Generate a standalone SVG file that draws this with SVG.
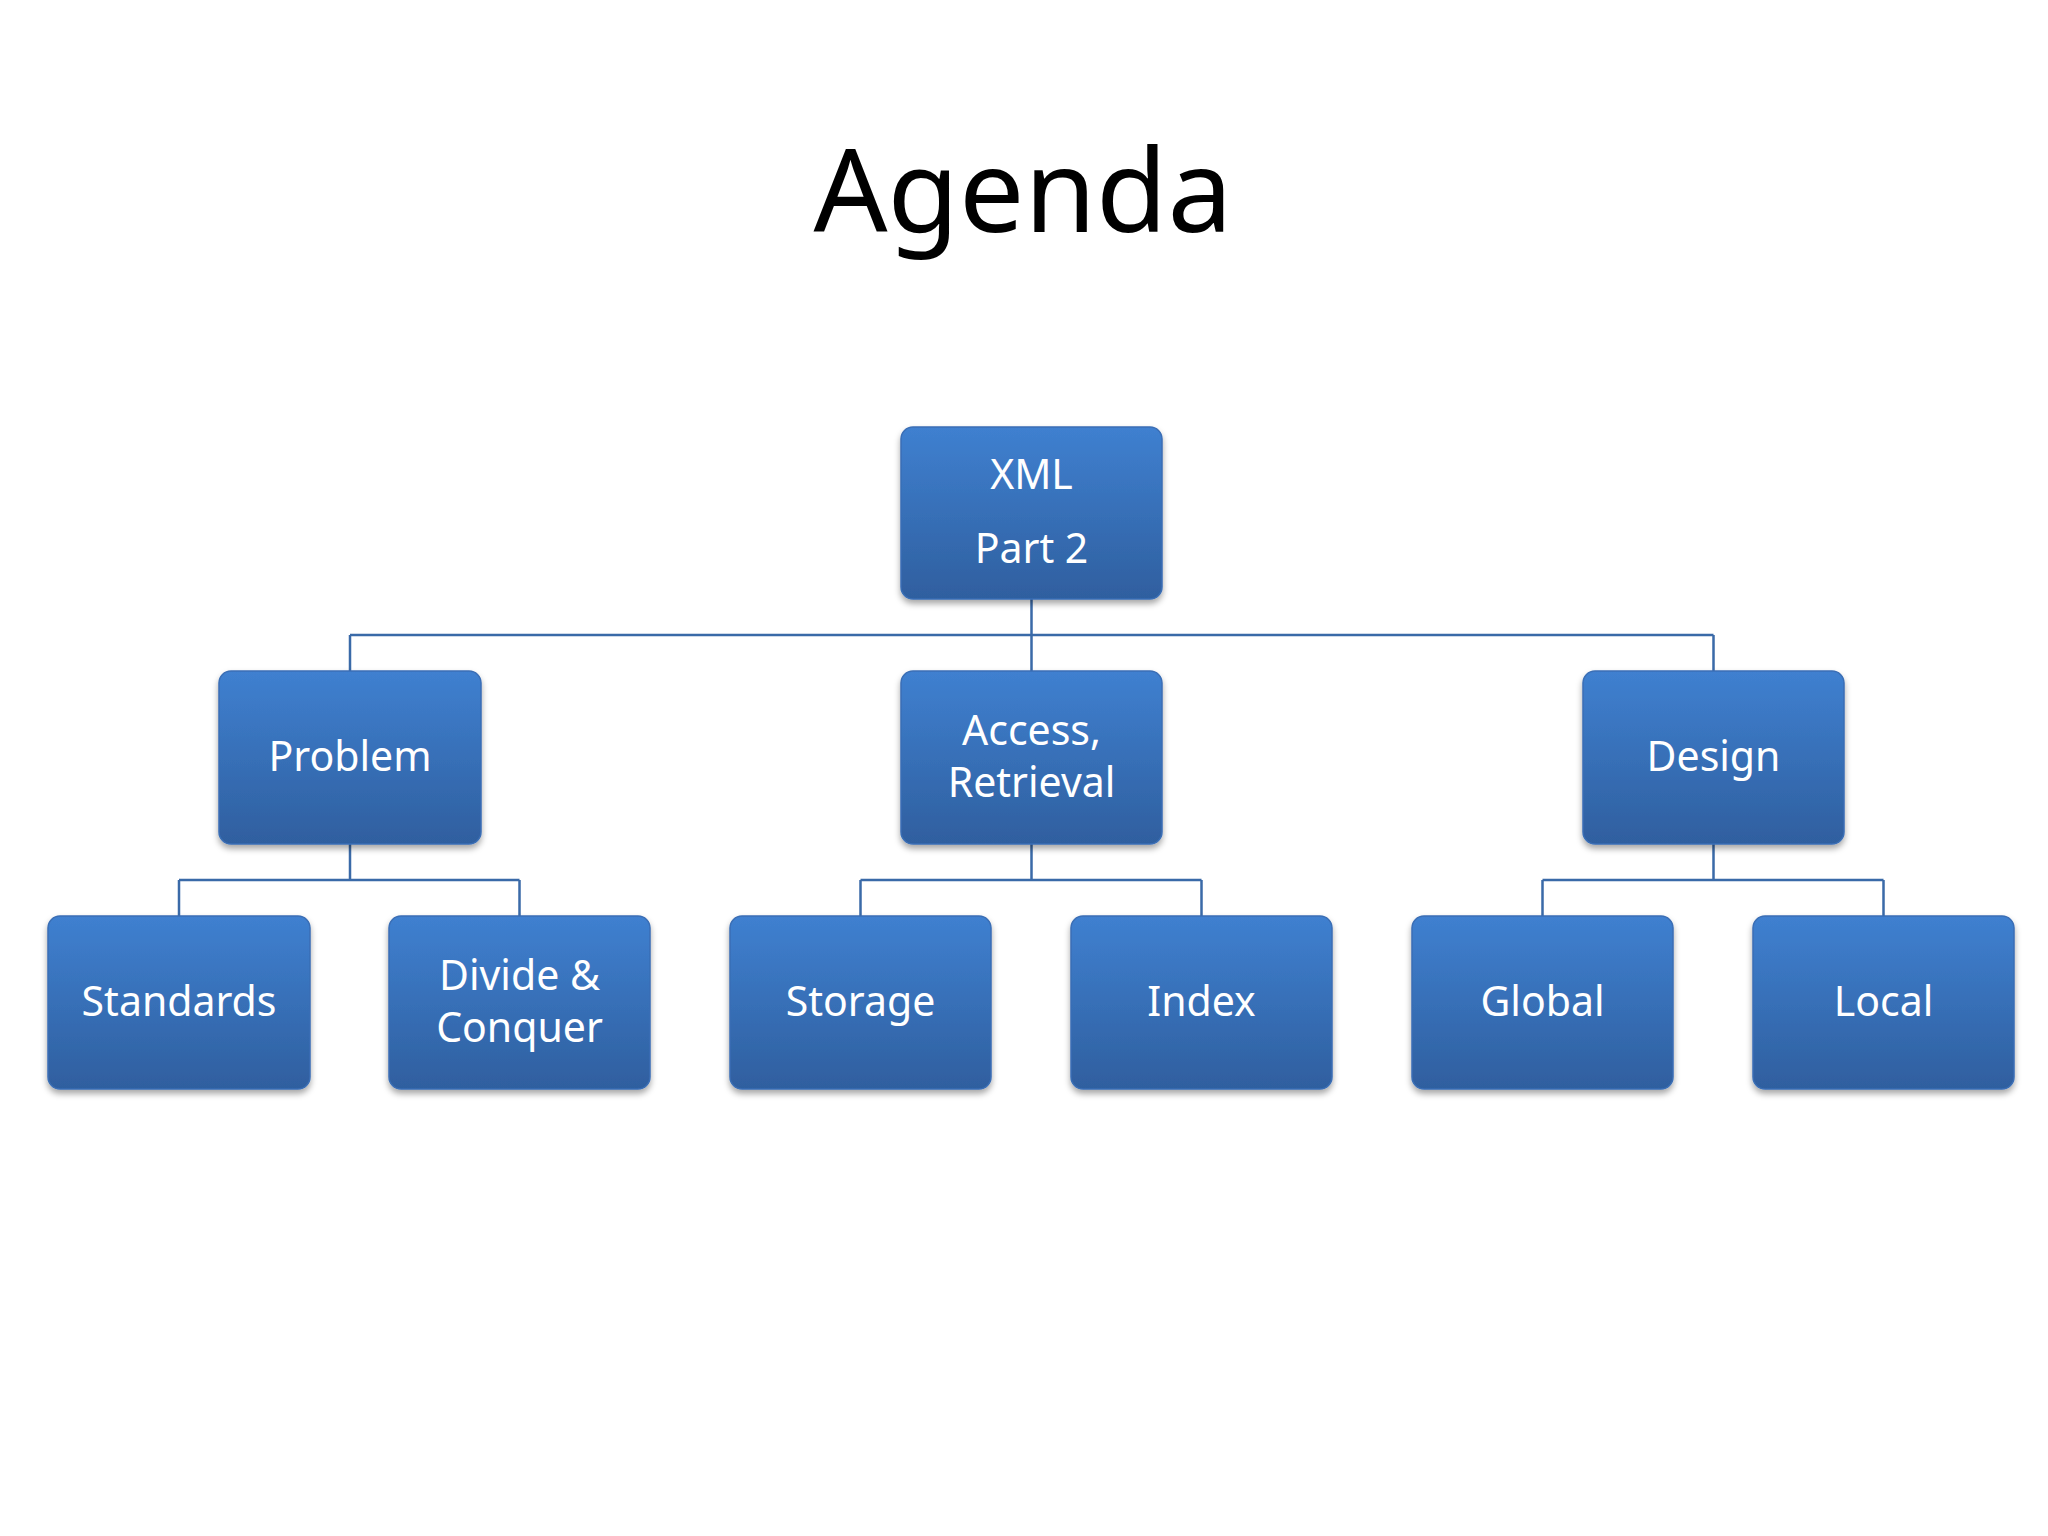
<svg xmlns="http://www.w3.org/2000/svg" width="2048" height="1536" viewBox="0 0 2048 1536">
<defs>
<linearGradient id="g" x1="0" y1="0" x2="0" y2="1">
<stop offset="0" stop-color="#3f80d0"/><stop offset="1" stop-color="#2f5f9f"/>
</linearGradient>
<filter id="sh" x="-10%" y="-10%" width="120%" height="130%"><feDropShadow dx="0" dy="4" stdDeviation="3" flood-color="#000" flood-opacity="0.35"/></filter>
</defs>
<style>
.b{fill:url(#g);stroke:#3a6eb5;stroke-width:1.5;filter:url(#sh)}
.t{font-family:"Noto Sans","Open Sans",sans-serif;font-size:41px;fill:#fff;text-anchor:middle}
.c{fill:none;stroke:#3a6aa8;stroke-width:2.5}
</style>
<rect width="2048" height="1536" fill="#fff"/>
<text x="1023" y="232" font-family="'Noto Sans','Open Sans',sans-serif" font-size="116" text-anchor="middle" fill="#000">Agenda</text>
<g id="connectors">
<path class="c" d="M1031.5 599V635M350 635H1713.5M350 635V671M1031.5 635V671M1713.5 635V671"/>
<path class="c" d="M350 844V880M179 880H519.5M179 880V916M519.5 880V916"/>
<path class="c" d="M1031.5 844V880M860.5 880H1201.5M860.5 880V916M1201.5 880V916"/>
<path class="c" d="M1713.5 844V880M1542.5 880H1883.5M1542.5 880V916M1883.5 880V916"/>
</g>
<g id="root"><rect class="b" x="901" y="427" width="261" height="172" rx="12"/><text class="t" x="1031.5" y="489">XML</text><text class="t" x="1031.5" y="563">Part 2</text></g>
<g id="problem"><rect class="b" x="219" y="671" width="262" height="173" rx="12"/><text class="t" x="350" y="771">Problem</text></g>
<g id="access"><rect class="b" x="901" y="671" width="261" height="173" rx="12"/><text class="t" x="1031.5" y="745">Access,</text><text class="t" x="1031.5" y="797">Retrieval</text></g>
<g id="design"><rect class="b" x="1583" y="671" width="261" height="173" rx="12"/><text class="t" x="1713.5" y="771">Design</text></g>
<g id="standards"><rect class="b" x="48" y="916" width="262" height="173" rx="12"/><text class="t" x="179" y="1016">Standards</text></g>
<g id="divide"><rect class="b" x="389" y="916" width="261" height="173" rx="12"/><text class="t" x="519.5" y="990">Divide &amp;</text><text class="t" x="519.5" y="1042">Conquer</text></g>
<g id="storage"><rect class="b" x="730" y="916" width="261" height="173" rx="12"/><text class="t" x="860.5" y="1016">Storage</text></g>
<g id="index"><rect class="b" x="1071" y="916" width="261" height="173" rx="12"/><text class="t" x="1201.5" y="1016">Index</text></g>
<g id="global"><rect class="b" x="1412" y="916" width="261" height="173" rx="12"/><text class="t" x="1542.5" y="1016">Global</text></g>
<g id="local"><rect class="b" x="1753" y="916" width="261" height="173" rx="12"/><text class="t" x="1883.5" y="1016">Local</text></g>
</svg>
